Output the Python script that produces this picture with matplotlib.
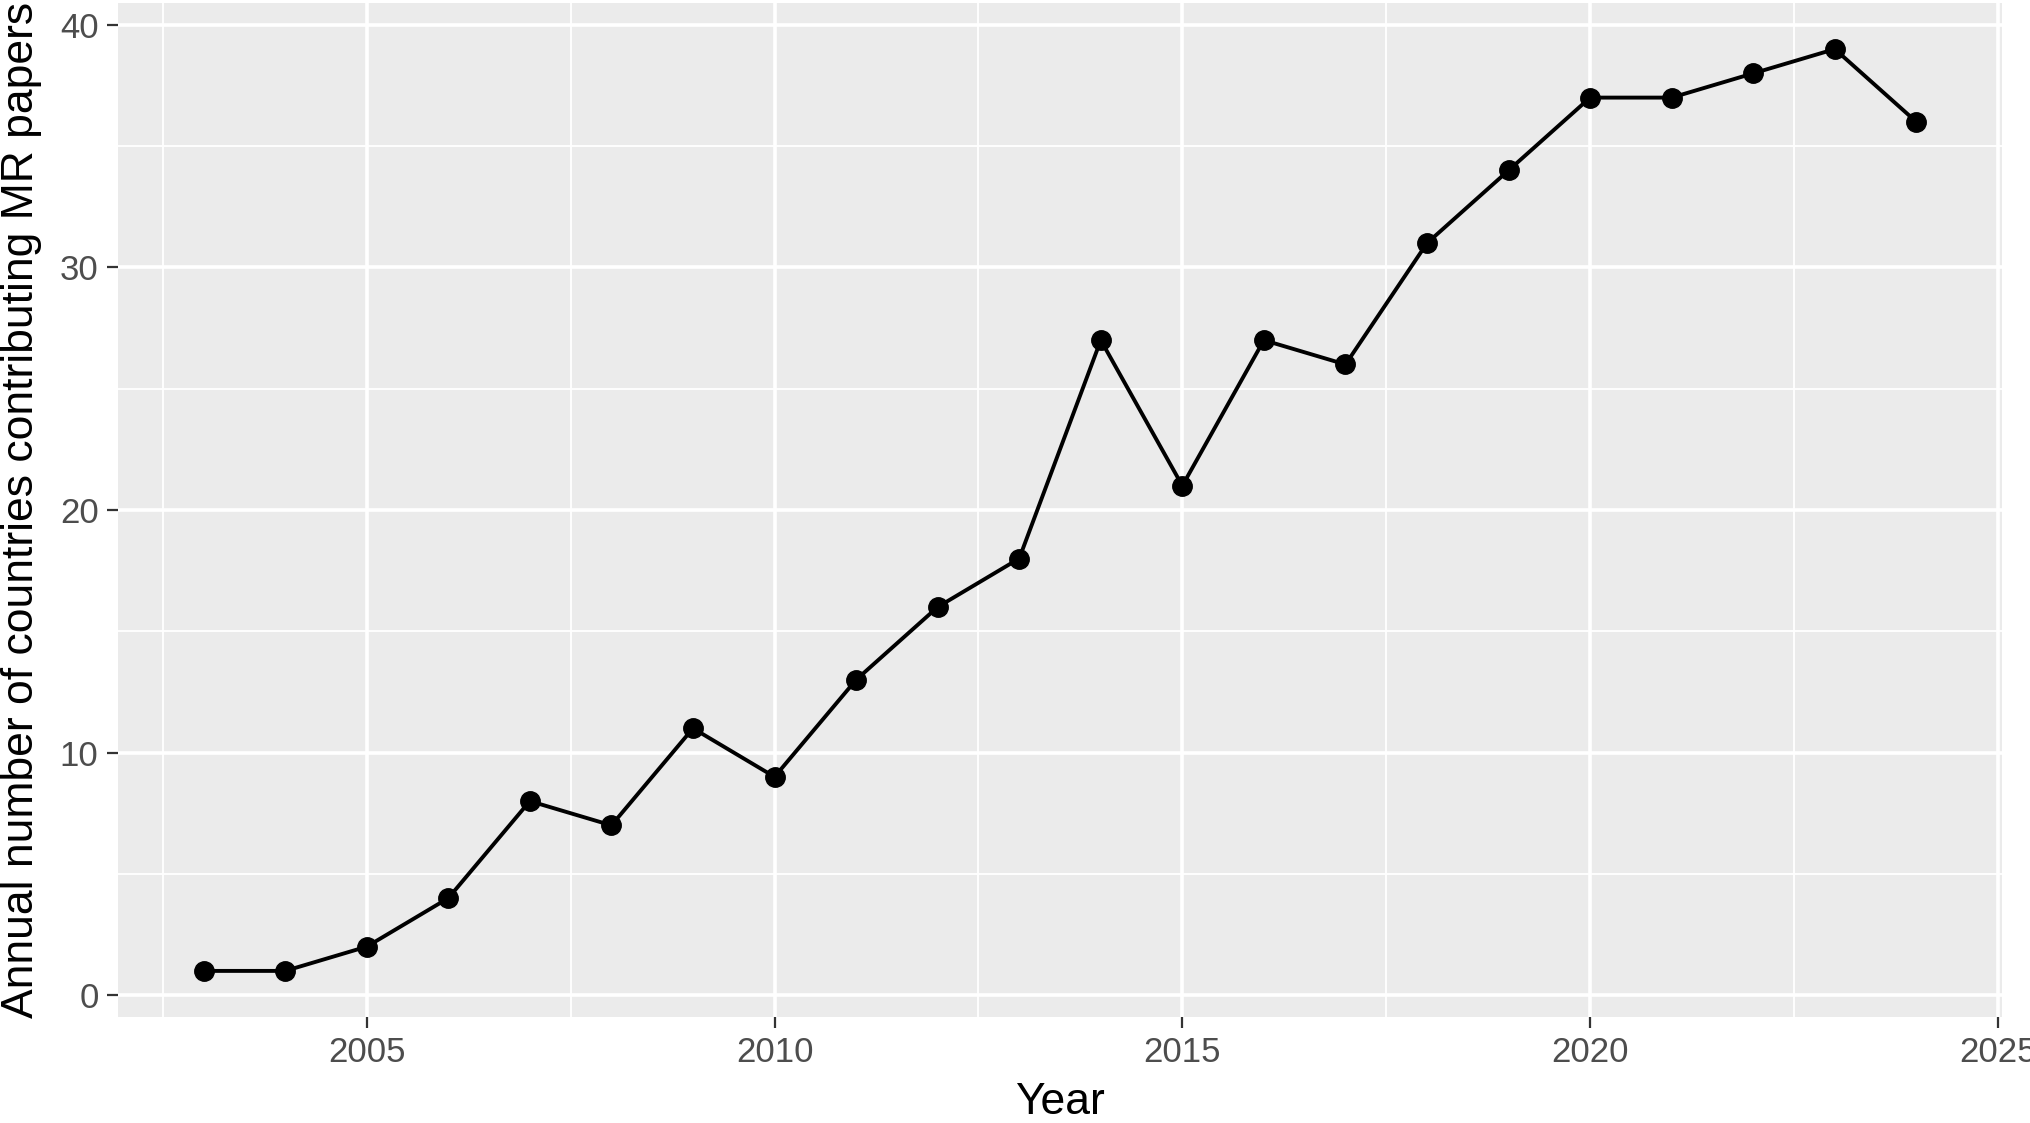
import matplotlib
matplotlib.use("Agg")
import matplotlib.pyplot as plt
from matplotlib.ticker import MultipleLocator

years = [2003, 2004, 2005, 2006, 2007, 2008, 2009, 2010, 2011, 2012, 2013,
         2014, 2015, 2016, 2017, 2018, 2019, 2020, 2021, 2022, 2023, 2024]
countries = [1, 1, 2, 4, 8, 7, 11, 9, 13, 16, 18,
             27, 21, 27, 26, 31, 34, 37, 37, 38, 39, 36]
x_ticks = [2005, 2010, 2015, 2020, 2025]
y_ticks = [0, 10, 20, 30, 40]

plt.rcParams['font.family'] = ['Liberation Sans', 'DejaVu Sans']

W, H = 2031, 1123
fig = plt.figure(figsize=(W / 100, H / 100), dpi=100)
L, R, T, B = 118, 2002, 3, 1017
ax = fig.add_axes([L / W, 1 - B / H, (R - L) / W, (B - T) / H])
ax.set_facecolor('#EBEBEB')
for s in ax.spines.values():
    s.set_visible(False)

ax.plot(years, countries, color='black', lw=2.8, zorder=3)
ax.plot(years, countries, 'o', color='black', ms=14, zorder=4)

xr = max(years) - min(years)
ax.set_xlim(min(years) - 0.05 * xr, max(years) + 0.05 * xr)
yr = max(countries) - min(countries)
ax.set_ylim(min(countries) - 0.05 * yr, max(countries) + 0.05 * yr)

ax.set_xticks(x_ticks)
ax.set_yticks(y_ticks)
ax.xaxis.set_minor_locator(MultipleLocator(2.5))
ax.yaxis.set_minor_locator(MultipleLocator(5))
ax.grid(which='major', color='white', lw=2.6)
ax.grid(which='minor', color='white', lw=1.3)
ax.set_axisbelow(True)
ax.tick_params(which='major', length=8, width=1.6, color='#333333',
               labelsize=25, labelcolor='#4D4D4D', pad=6)
ax.tick_params(which='minor', length=0)

ax.set_xlabel('Year', fontsize=32, color='black')
ax.set_ylabel('Annual number of countries contributing MR papers', fontsize=32, color='black')
ax.xaxis.set_label_coords(0.5, -(1102 - B) / (B - T))
ax.yaxis.set_label_coords((22 - L) / (R - L), 0.5)
ax.xaxis.label.set_va('center')
ax.yaxis.label.set_va('center')

fig.savefig('out.png', dpi=100)
